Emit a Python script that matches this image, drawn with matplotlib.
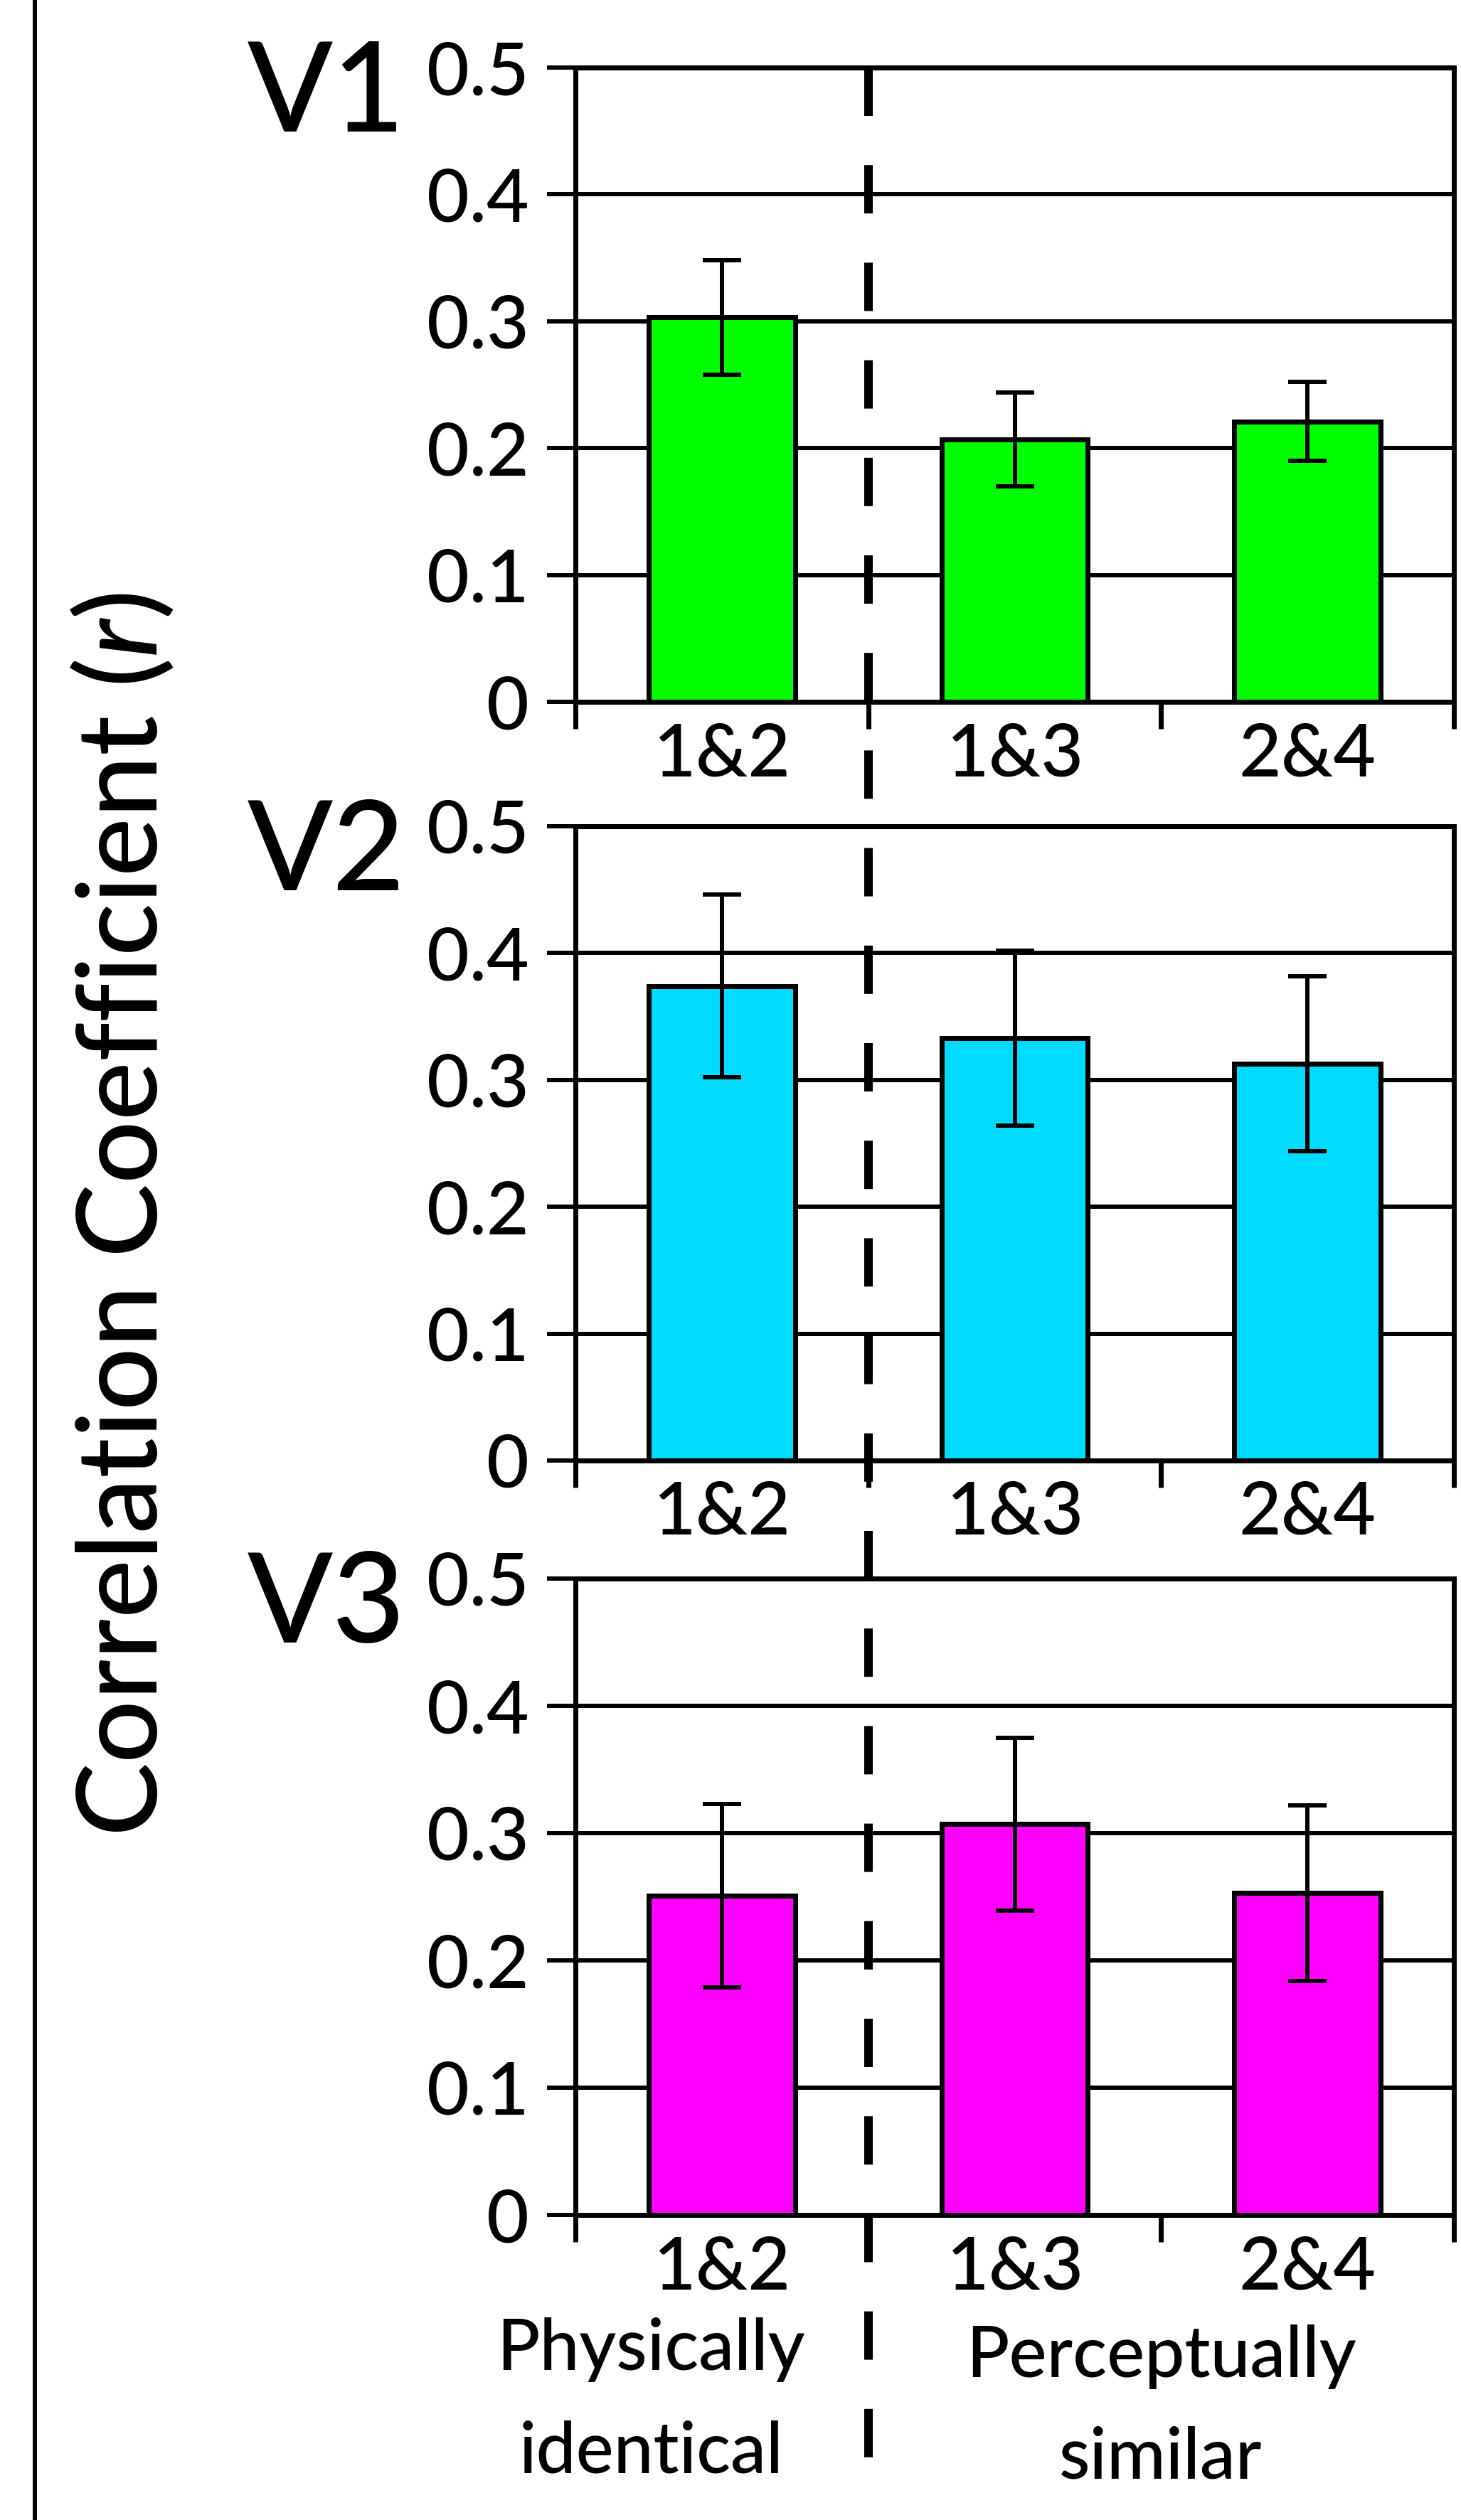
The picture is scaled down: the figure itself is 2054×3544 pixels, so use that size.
import matplotlib
matplotlib.use('Agg')
import matplotlib.pyplot as plt
import matplotlib.lines as mlines
from matplotlib.transforms import blended_transform_factory

# ---------------- data ----------------
categories = ['1&2', '1&3', '2&4']
areas = ['V1', 'V2', 'V3']
v1_means = [0.303, 0.207, 0.221]
v1_errs = [0.045, 0.037, 0.031]
v2_means = [0.374, 0.333, 0.313]
v2_errs = [0.072, 0.069, 0.069]
v3_means = [0.251, 0.307, 0.253]
v3_errs = [0.072, 0.068, 0.069]
bar_colors = ['#00FF00', '#00DCFF', '#FF00FF']
yticks = [0, 0.1, 0.2, 0.3, 0.4, 0.5]
ytick_labels = ['0', '0.1', '0.2', '0.3', '0.4', '0.5']
group_physical = ['Physically', 'identical']
group_perceptual = ['Perceptually', 'similar']
ylabel_text = 'Correlation Coefficient ($r$)'

# ---------------- style ----------------
plt.rcParams['font.family'] = ['Lato', 'DejaVu Sans']
plt.rcParams['font.weight'] = 'medium'
plt.rcParams['mathtext.fontset'] = 'custom'
plt.rcParams['mathtext.rm'] = 'Lato:medium'
plt.rcParams['mathtext.it'] = 'Lato:italic:medium'

W, H, DPI = 2054, 3544, 100
fig = plt.figure(figsize=(W / DPI, H / DPI), dpi=DPI)


def pt(p):
    return p * 72 / DPI


def fx(x):
    return x / W


def fy(y):
    return 1 - y / H


panel_px = [(95, 987), (1162, 2054), (2220, 3115)]
ax_l, ax_r = 809, 2044
means_all = [v1_means, v2_means, v3_means]
errs_all = [v1_errs, v2_errs, v3_errs]
xpos = [1, 2, 3]

axes = []
for i, (top, bot) in enumerate(panel_px):
    ax = fig.add_axes([fx(ax_l), fy(bot), (ax_r - ax_l) / W, (bot - top) / H])
    axes.append(ax)
    ax.bar(xpos, means_all[i], width=0.5, color=bar_colors[i],
           edgecolor='black', linewidth=pt(7), zorder=3,
           yerr=errs_all[i],
           error_kw=dict(ecolor='black', elinewidth=pt(6), capsize=pt(27),
                         capthick=pt(6), zorder=4))
    ax.set_xlim(0.5, 3.5)
    ax.set_ylim(0, 0.5)
    ax.set_yticks(yticks)
    ax.set_yticklabels(ytick_labels)
    ax.yaxis.grid(True, color='black', linewidth=pt(6))
    ax.set_axisbelow(True)
    ax.set_xticks([0.5, 1.5, 2.5, 3.5])
    ax.set_xticklabels([])
    ax.set_xticks(xpos, minor=True)
    ax.set_xticklabels(categories, minor=True)
    ax.tick_params(axis='x', which='major', direction='out', length=pt(38),
                   width=pt(7), color='black')
    ax.tick_params(axis='x', which='minor', length=0, pad=pt(28),
                   labelsize=pt(103))
    ax.tick_params(axis='y', direction='out', length=pt(40), width=pt(6),
                   pad=pt(25), labelsize=pt(103))
    for s in ax.spines.values():
        s.set_linewidth(pt(7))
        s.set_color('black')
    fig.text(fx(348), fy(top + 90), areas[i], ha='left', va='baseline',
             fontsize=pt(176))

# dashed separator running through all panels
trans = blended_transform_factory(axes[0].transData, fig.transFigure)
dash_lw = 12
sep = mlines.Line2D([1.5, 1.5], [fy(94.5), fy(3456)], transform=trans,
                    color='black', linewidth=pt(dash_lw),
                    linestyle=(0, (68 / dash_lw, 69.2 / dash_lw)))
fig.add_artist(sep)

# left border line
fig.add_artist(mlines.Line2D([fx(49), fx(49)], [0, 1],
                             transform=fig.transFigure, color='black',
                             linewidth=pt(6)))

# group labels
fig.text(fx(915), fy(3333), group_physical[0], ha='center', va='baseline',
         fontsize=pt(100))
fig.text(fx(915), fy(3477), group_physical[1], ha='center', va='baseline',
         fontsize=pt(100))
fig.text(fx(1632), fy(3343), group_perceptual[0], ha='center', va='baseline',
         fontsize=pt(100))
fig.text(fx(1632), fy(3485), group_perceptual[1], ha='center', va='baseline',
         fontsize=pt(100))

# y label
fig.text(fx(221), fy(1708), ylabel_text, rotation=90, rotation_mode='anchor',
         ha='center', va='baseline', fontsize=pt(156))

fig.savefig('out.png', dpi=DPI)
